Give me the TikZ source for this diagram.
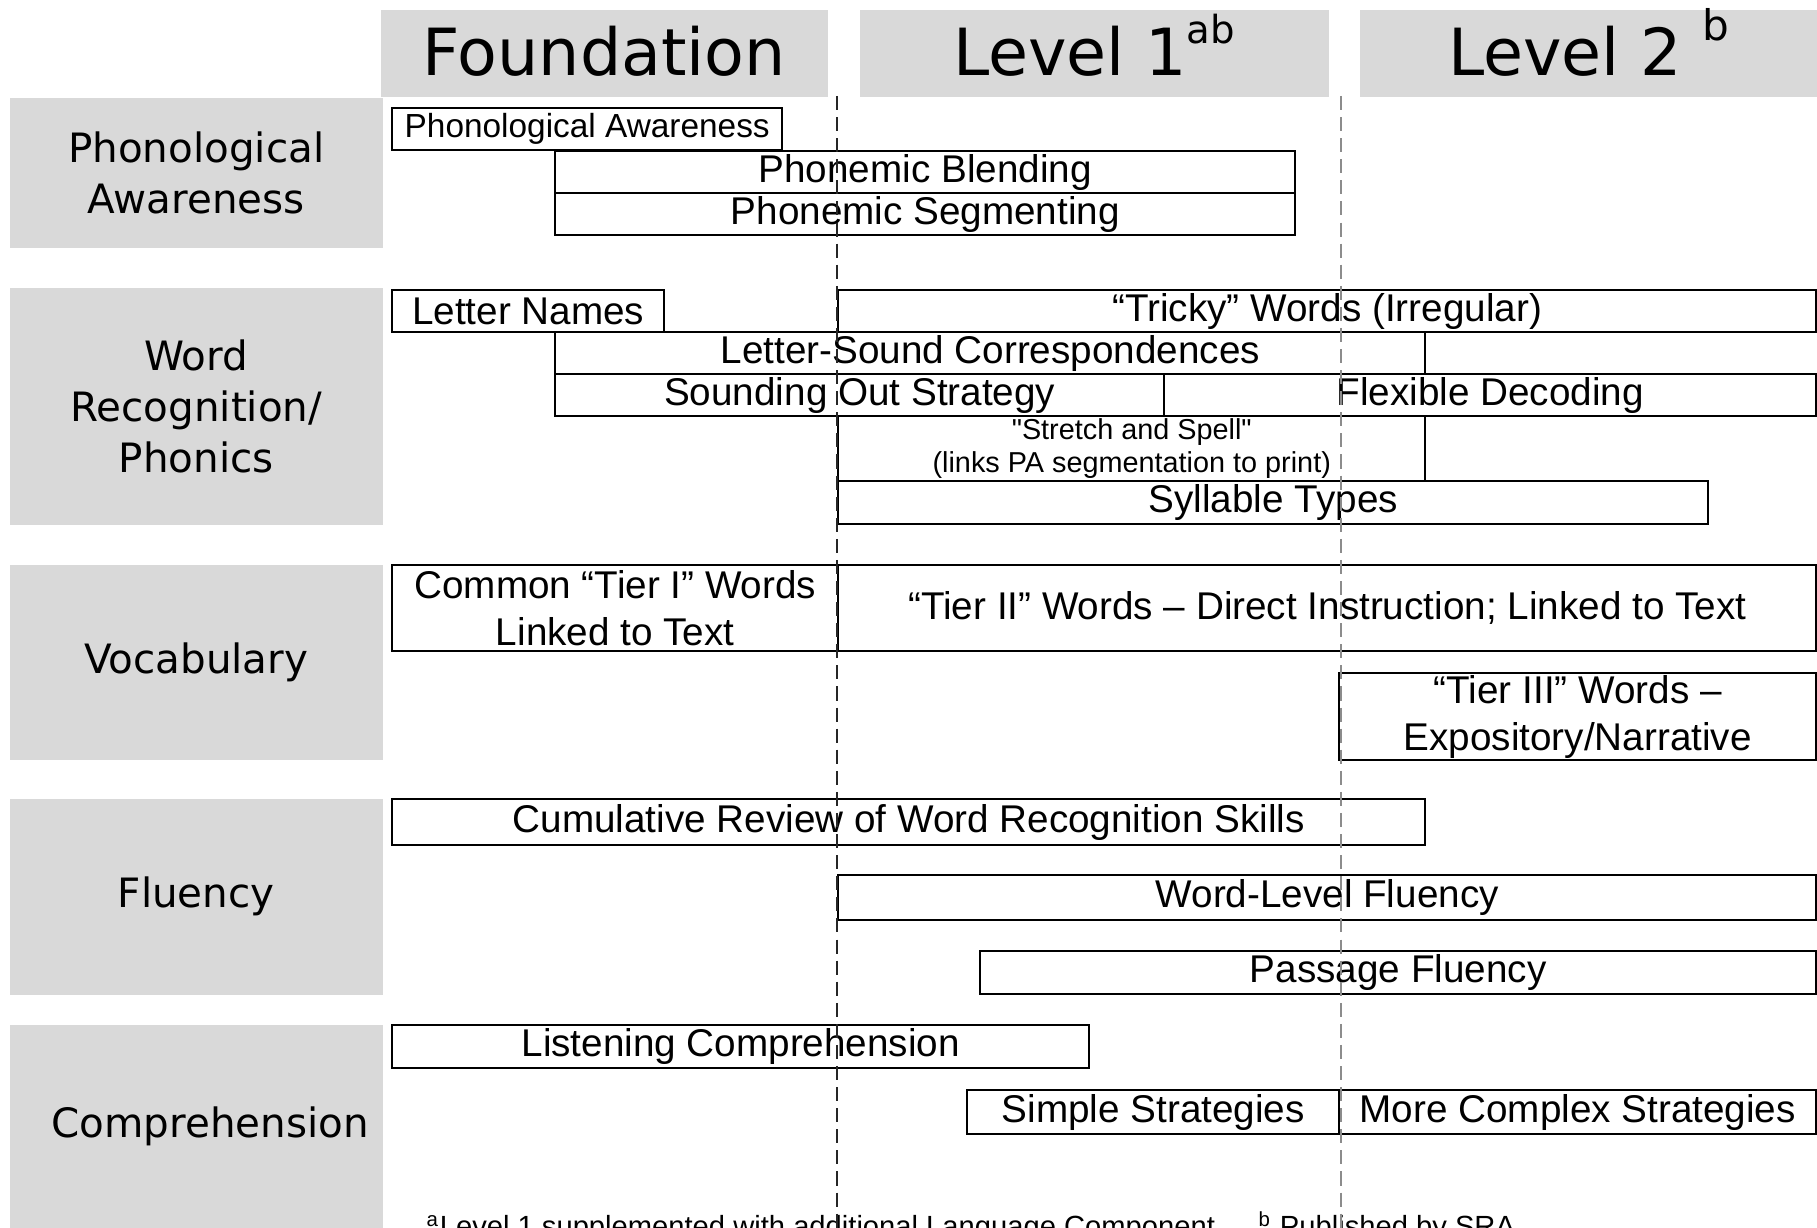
\documentclass[tikz,border=0pt]{standalone}
\usepackage{fontspec}
\newfontfamily\barfont{Liberation Sans}
\newfontfamily\lblfont{DejaVu Sans}
\definecolor{hdrgray}{HTML}{D9D9D9}
\tikzset{hdr/.style={fill=hdrgray, anchor=north west, inner sep=0pt, text height=12.5pt, text depth=0pt, font=\lblfont\fontsize{18.5}{20}\selectfont}}
\tikzset{area/.style={fill=hdrgray, anchor=north west, inner sep=0pt, align=center, font=\lblfont\fontsize{11.5}{14.5}\selectfont}}
\tikzset{skill/.style={draw, anchor=north west, inner sep=0pt, line width=0.7pt, align=center, font=\barfont\fontsize{11}{13.5}\selectfont}}
\tikzset{smallbar/.style={skill, font=\barfont\fontsize{8.2}{9.4}\selectfont}}
\tikzset{divider/.style={draw, line width=0.8pt, dash pattern=on 4pt off 2pt}}
\tikzset{note/.style={anchor=base west, inner sep=0pt, font=\barfont\fontsize{8.3}{9}\selectfont}}

\begin{document}
\begin{tikzpicture}
		\useasboundingbox (0,0) rectangle (18.17,-12.28);
		
		% levels
		\node[hdr, minimum width=4.47cm, minimum height=0.87cm] (found) at (3.80,-0.09) {Foundation};
		\node[hdr, minimum width=4.69cm, minimum height=0.87cm] (lev1) at (8.59,-0.09) {Level 1\raisebox{9pt}{\fontsize{11}{11}\selectfont ab}};
		\node[hdr, minimum width=4.58cm, minimum height=0.87cm] (lev2) at (13.59,-0.09) {Level 2 \raisebox{10pt}{\fontsize{12}{12}\selectfont b}};
		
		% areas
		\node[area, minimum width=3.73cm, minimum height=1.50cm] (phon) at (0.09,-0.97) {Phonological\\Awareness};
		\node[area, minimum width=3.73cm, minimum height=2.37cm] (wordrec) at (0.09,-2.87) {Word\\Recognition/\\Phonics};
		\node[area, minimum width=3.73cm, minimum height=1.95cm] (vocab) at (0.09,-5.64) {Vocabulary};
		\node[area, minimum width=3.73cm, minimum height=1.96cm] (flu) at (0.09,-7.98) {Fluency};
		\node[area, minimum width=3.73cm, minimum height=2.04cm] (comp) at (0.09,-10.24) {\hspace*{0.28cm}Comprehension};
		
		% phonological awareness
		\node[skill, minimum width=3.90cm, minimum height=0.42cm, font=\barfont\fontsize{9.5}{11}\selectfont] (pa) at (3.91,-1.07) {Phonological Awareness};
		\node[skill, minimum width=7.40cm, minimum height=0.42cm] (blend) at (5.54,-1.50) {Phonemic Blending};
		\node[skill, minimum width=7.40cm, minimum height=0.42cm] (segm) at (5.54,-1.92) {Phonemic Segmenting};
		
		% word recognition
		\node[skill, minimum width=2.72cm, minimum height=0.42cm] (letnames) at (3.91,-2.89) {Letter Names};
		\node[skill, minimum width=9.78cm, minimum height=0.42cm] (tricky) at (8.37,-2.89) {“Tricky” Words (Irregular)};
		\node[skill, minimum width=8.70cm, minimum height=0.42cm] (lsc) at (5.54,-3.31) {Letter-Sound Correspondences};
		\node[skill, minimum width=6.09cm, minimum height=0.42cm] (soundout) at (5.54,-3.73) {Sounding Out Strategy};
		\node[skill, minimum width=6.52cm, minimum height=0.42cm] (flexdec) at (11.63,-3.73) {Flexible Decoding};
		\node[smallbar, minimum width=5.87cm, minimum height=0.65cm] (stretch) at (8.37,-4.15) {"Stretch and Spell"\\(links PA segmentation to print)};
		\node[skill, minimum width=8.70cm, minimum height=0.43cm] (syll) at (8.37,-4.80) {Syllable Types};
		
		% vocabulary
		\node[skill, minimum width=4.46cm, minimum height=0.86cm] (tierone) at (3.91,-5.64) {Common “Tier I” Words\\Linked to Text};
		\node[skill, minimum width=9.78cm, minimum height=0.86cm] (tiertwo) at (8.37,-5.64) {“Tier II” Words – Direct Instruction; Linked to Text};
		\node[skill, minimum width=4.77cm, minimum height=0.87cm] (tierthree) at (13.38,-6.72) {“Tier III” Words –\\Expository/Narrative};
		
		% fluency
		\node[skill, minimum width=10.33cm, minimum height=0.46cm] (cumul) at (3.91,-7.98) {Cumulative Review of Word Recognition Skills};
		\node[skill, minimum width=9.78cm, minimum height=0.45cm] (wordflu) at (8.37,-8.74) {Word-Level Fluency};
		\node[skill, minimum width=8.36cm, minimum height=0.43cm] (passflu) at (9.79,-9.50) {Passage Fluency};
		
		% comprehension
		\node[skill, minimum width=6.97cm, minimum height=0.43cm] (listen) at (3.91,-10.24) {Listening Comprehension};
		\node[skill, minimum width=3.72cm, minimum height=0.44cm] (simple) at (9.66,-10.89) {Simple Strategies};
		\node[skill, minimum width=4.77cm, minimum height=0.44cm] (complex) at (13.38,-10.89) {More Complex Strategies};
		
		% notes
		\node[note] (notea) at (4.26,-12.36) {\textsuperscript{a}Level 1 supplemented with additional Language Component};
		\node[note] (noteb) at (12.58,-12.36) {\textsuperscript{b} Published by SRA};
		
		% level boundaries
		\coordinate (d1top) at (8.37,-0.96);
		\coordinate (d1bot) at (8.37,-12.40);
		\coordinate (d2top) at (13.41,-0.96);
		\coordinate (d2bot) at (13.41,-12.40);
		\draw[divider, black!85] (d1top) -- (d1bot);
		\draw[divider, black!45] (d2top) -- (d2bot);
		%		\draw[divider] (found.south east) -- (d1bot);
	\end{tikzpicture}
\end{document}
